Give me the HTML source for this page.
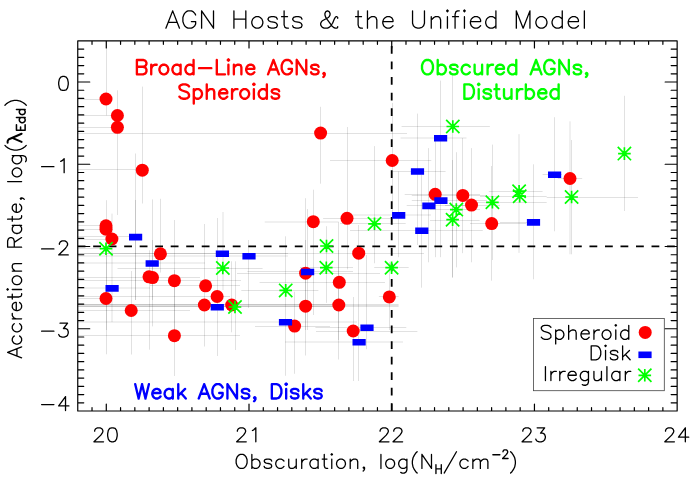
<!DOCTYPE html><html><head><meta charset="utf-8"><title>AGN Hosts &amp; the Unified Model</title><style>html,body{margin:0;padding:0;background:#fff;font-family:"Liberation Sans",sans-serif}svg{display:block}</style></head><body><svg width="690" height="493" viewBox="0 0 690 493"><rect width="690" height="493" fill="#fff"/><g stroke="#000" stroke-opacity=".24" stroke-width=".5" fill="none"><path d="M77.75 99.5H106"/><path d="M77.75 115.5H117.4"/><path d="M77.75 127.5H117.4"/><path d="M77.75 169.5H142.3"/><path d="M77.75 225.5H106"/><path d="M77.75 229.5H106"/><path d="M77.75 239.5H111.9"/><path d="M77.75 253.5H300"/><path d="M77.75 298.5H106"/><path d="M77.75 310.5H190"/><path d="M77.75 277.5H200"/><path d="M77.75 280.5H241"/><path d="M77.75 335.5H240"/><path d="M150 285.5H240"/><path d="M77.75 304.5H398.6"/><path d="M77.75 296.5H230"/><path d="M323.1 218.5H392"/><path d="M77.75 133.5H407"/><path d="M255 326.5H330"/><path d="M237 273.5H380"/><path d="M77.75 306.5H398.6"/><path d="M259.6 282.5H385"/><path d="M300 253.5H424"/><path d="M378.9 296.5H398.6"/><path d="M316 331.5H417.4"/><path d="M330 160.5H431.3"/><path d="M404.7 194.5H480"/><path d="M411.8 195.5H487"/><path d="M445 205.5H500"/><path d="M470 223.5H526"/><path d="M557.8 178.5H582.2"/><path d="M77.75 236.5H135.4"/><path d="M247.4 271.5H353"/><path d="M315.4 327.5H406.3"/><path d="M392.5 171.5H445.6"/><path d="M350 230.5H482.8"/><path d="M406.7 205.5H470"/><path d="M411.8 200.5H487"/><path d="M500 222.5H540"/><path d="M542.6 174.5H562"/><path d="M77.75 248.5H106"/><path d="M117.5 268.5H262.6"/><path d="M241.3 290.5H318.4"/><path d="M300 267.5H353"/><path d="M340 223.5H405.7"/><path d="M374.2 267.5H408.7"/><path d="M401.6 126.5H489.9"/><path d="M430 209.5H480"/><path d="M430 220.5H479.7"/><path d="M470 202.5H546.7"/><path d="M488.8 191.5H542.6"/><path d="M480 196.5H546.7"/><path d="M546.7 197.5H638"/><path d="M77.75 263H205"/><path d="M77.75 288H150"/><path d="M77.75 256H288"/><path d="M77.75 322H357"/><path d="M285 342H403"/><path d="M400.6 138H466.5"/><path d="M345 215H431"/><path d="M264.7 222H338.7"/><path d="M106.5 41.3V115.4"/><path d="M117.5 90.3V215"/><path d="M142.5 86.6V203.5"/><path d="M106.5 200.2V354.3"/><path d="M160.5 198.8V272.5"/><path d="M131.5 271V354.5"/><path d="M149.5 250.3V349.7"/><path d="M152.5 199.4V326.4"/><path d="M174.5 220V376"/><path d="M204.5 224V346.5"/><path d="M217.5 218V356"/><path d="M231.5 261.3V332.3"/><path d="M313.5 189.7V315"/><path d="M347.5 127V269.4"/><path d="M320.5 106.8V183.7"/><path d="M294.5 291.7V373.8"/><path d="M305.5 198.2V355.5"/><path d="M338.5 222.1V359.5"/><path d="M358.5 225V381"/><path d="M389.5 262V330"/><path d="M353.5 297V381"/><path d="M392.5 102.9V225"/><path d="M435.5 138.8V257.2"/><path d="M462.5 138V253.2"/><path d="M471.5 148.1V262.3"/><path d="M491.5 166V280.7"/><path d="M135.5 153.5V300"/><path d="M248.5 240V308"/><path d="M285.5 236.3V375.8"/><path d="M307.5 209V330"/><path d="M366.5 255V349.2"/><path d="M417.5 113.6V245"/><path d="M440.5 80.6V257.2"/><path d="M398.5 171.4V257.2"/><path d="M421.5 174.5V287.7"/><path d="M428.5 148.1V262.3"/><path d="M533.5 164.3V279.3"/><path d="M554.5 117.2V231.3"/><path d="M235.5 261.3V350"/><path d="M326.5 226.2V302.9"/><path d="M374.5 146.1V263.3"/><path d="M452.5 75.5V277.5"/><path d="M456.5 152.2V267.4"/><path d="M492.5 144.6V260"/><path d="M571.5 140V254.3"/><path d="M624.5 95.8V211"/><path d="M112 213.6V322.1"/><path d="M223 212V290"/><path d="M570 121.3V254.3"/><path d="M519 134.1V252.9"/><path d="M77.75 304.5H340"/><path d="M77.75 305.5H398.6"/><path d="M77.75 306.5H340"/><path d="M77.75 253.5H288"/><path d="M106.5 240V330"/><path d="M452.5 160V277.5"/><path d="M305.5 240V330"/><path d="M338.5 250V340"/><path d="M174.5 270V340"/><path d="M152.5 240V300"/><path d="M135.5 200V300"/></g><path d="M77.75 246.45H677.15" stroke="#000" stroke-width="1.8" stroke-dasharray="7.8 7.71" stroke-dashoffset="0.1" fill="none"/><path d="M391.7 411V40.9" stroke="#000" stroke-width="1.8" stroke-dasharray="7.75 7.78" fill="none"/><g fill="#f00"><circle cx="106" cy="99" r="6.5"/><circle cx="117.4" cy="115.5" r="6.5"/><circle cx="117.4" cy="127.3" r="6.5"/><circle cx="142.3" cy="170.2" r="6.5"/><circle cx="106" cy="225.8" r="6.5"/><circle cx="106" cy="229.2" r="6.5"/><circle cx="111.9" cy="239" r="6.5"/><circle cx="160.4" cy="253.8" r="6.5"/><circle cx="106" cy="298.5" r="6.5"/><circle cx="131.2" cy="310.5" r="6.5"/><circle cx="149" cy="276.8" r="6.5"/><circle cx="152.5" cy="277.6" r="6.5"/><circle cx="174.4" cy="280.7" r="6.5"/><circle cx="174.4" cy="335.7" r="6.5"/><circle cx="205.6" cy="285.8" r="6.5"/><circle cx="204.4" cy="305" r="6.5"/><circle cx="217.1" cy="296.5" r="6.5"/><circle cx="231.7" cy="305" r="6.5"/><circle cx="313.3" cy="221.7" r="6.5"/><circle cx="347" cy="218.3" r="6.5"/><circle cx="320.6" cy="133.1" r="6.5"/><circle cx="294.6" cy="326.1" r="6.5"/><circle cx="305.6" cy="273.2" r="6.5"/><circle cx="305.6" cy="306.2" r="6.5"/><circle cx="339.3" cy="282.3" r="6.5"/><circle cx="338.8" cy="305" r="6.5"/><circle cx="358.7" cy="253.2" r="6.5"/><circle cx="389.3" cy="296.9" r="6.5"/><circle cx="353.2" cy="331" r="6.5"/><circle cx="392.2" cy="160.5" r="6.5"/><circle cx="435.2" cy="194.3" r="6.5"/><circle cx="462.8" cy="195.4" r="6.5"/><circle cx="471.5" cy="205.1" r="6.5"/><circle cx="491.7" cy="223.6" r="6.5"/><circle cx="570" cy="178.5" r="6.5"/></g><path fill="#00f" d="M129 233.8h13.2v6.6h-13.2zM145.6 260.2h13.2v6.6h-13.2zM105.5 285.1h13.2v6.6h-13.2zM215.8 250.5h13.2v6.6h-13.2zM242.4 252.9h13.2v6.6h-13.2zM210.7 304h13.2v6.6h-13.2zM278.9 319h13.2v6.6h-13.2zM301 268.7h13.2v6.6h-13.2zM360.4 324.4h13.2v6.6h-13.2zM352.5 339h13.2v6.6h-13.2zM410.9 168.2h13.2v6.6h-13.2zM434 134.9h13.2v6.6h-13.2zM392.1 212.1h13.2v6.6h-13.2zM415.2 227.5h13.2v6.6h-13.2zM422.3 202.6h13.2v6.6h-13.2zM434.3 197.3h13.2v6.6h-13.2zM526.9 219.1h13.2v6.6h-13.2zM548 171.5h13.2v6.6h-13.2z"/><path stroke="#0f0" stroke-width="1.7" fill="none" d="M99.7 248.7h12.6M106 242.4v12.6M99.35 242.05l13.3 13.3M99.35 255.35l13.3 -13.3M216.5 268h12.6M222.8 261.7v12.6M216.15 261.35l13.3 13.3M216.15 274.65l13.3 -13.3M228.7 307h12.6M235 300.7v12.6M228.35 300.35l13.3 13.3M228.35 313.65l13.3 -13.3M279.4 290.4h12.6M285.7 284.1v12.6M279.05 283.75l13.3 13.3M279.05 297.05l13.3 -13.3M320.2 246h12.6M326.5 239.7v12.6M319.85 239.35l13.3 13.3M319.85 252.65l13.3 -13.3M320 267.7h12.6M326.3 261.4v12.6M319.65 261.05l13.3 13.3M319.65 274.35l13.3 -13.3M368.2 223.8h12.6M374.5 217.5v12.6M367.85 217.15l13.3 13.3M367.85 230.45l13.3 -13.3M385.3 267.7h12.6M391.6 261.4v12.6M384.95 261.05l13.3 13.3M384.95 274.35l13.3 -13.3M446.5 126.5h12.6M452.8 120.2v12.6M446.15 119.85l13.3 13.3M446.15 133.15l13.3 -13.3M450 209.6h12.6M456.3 203.3v12.6M449.65 202.95l13.3 13.3M449.65 216.25l13.3 -13.3M446.3 219.7h12.6M452.6 213.4v12.6M445.95 213.05l13.3 13.3M445.95 226.35l13.3 -13.3M486.1 202.3h12.6M492.4 196v12.6M485.75 195.65l13.3 13.3M485.75 208.95l13.3 -13.3M512.8 191.2h12.6M519.1 184.9v12.6M512.45 184.55l13.3 13.3M512.45 197.85l13.3 -13.3M513.4 196.2h12.6M519.7 189.9v12.6M513.05 189.55l13.3 13.3M513.05 202.85l13.3 -13.3M565.3 197h12.6M571.6 190.7v12.6M564.95 190.35l13.3 13.3M564.95 203.65l13.3 -13.3M618.1 153.6h12.6M624.4 147.3v12.6M617.75 146.95l13.3 13.3M617.75 160.25l13.3 -13.3"/><rect x="533.4" y="318.4" width="130.9" height="72.3" fill="#fff" stroke="#444" stroke-width="0.8"/><g fill="#f00"><circle cx="645.2" cy="332.4" r="6.5"/></g><path fill="#00f" d="M638.4 351.5h13.2v6.6h-13.2z"/><path stroke="#0f0" stroke-width="1.7" fill="none" d="M638.5 375.3h12.6M644.8 369v12.6M638.15 368.65l13.3 13.3M638.15 381.95l13.3 -13.3"/><path d="M77.75 40.9H677.15V411H77.75ZM92.02 411v-3.4M92.02 40.9v3.4M106.29 411v-7M106.29 40.9v7M120.56 411v-3.4M120.56 40.9v3.4M134.84 411v-3.4M134.84 40.9v3.4M149.11 411v-3.4M149.11 40.9v3.4M163.38 411v-3.4M163.38 40.9v3.4M177.65 411v-3.4M177.65 40.9v3.4M191.92 411v-3.4M191.92 40.9v3.4M206.19 411v-3.4M206.19 40.9v3.4M220.46 411v-3.4M220.46 40.9v3.4M234.74 411v-3.4M234.74 40.9v3.4M249.01 411v-7M249.01 40.9v7M263.28 411v-3.4M263.28 40.9v3.4M277.55 411v-3.4M277.55 40.9v3.4M291.82 411v-3.4M291.82 40.9v3.4M306.09 411v-3.4M306.09 40.9v3.4M320.36 411v-3.4M320.36 40.9v3.4M334.64 411v-3.4M334.64 40.9v3.4M348.91 411v-3.4M348.91 40.9v3.4M363.18 411v-3.4M363.18 40.9v3.4M377.45 411v-3.4M377.45 40.9v3.4M391.72 411v-7M391.72 40.9v7M405.99 411v-3.4M405.99 40.9v3.4M420.26 411v-3.4M420.26 40.9v3.4M434.54 411v-3.4M434.54 40.9v3.4M448.81 411v-3.4M448.81 40.9v3.4M463.08 411v-3.4M463.08 40.9v3.4M477.35 411v-3.4M477.35 40.9v3.4M491.62 411v-3.4M491.62 40.9v3.4M505.89 411v-3.4M505.89 40.9v3.4M520.16 411v-3.4M520.16 40.9v3.4M534.44 411v-7M534.44 40.9v7M548.71 411v-3.4M548.71 40.9v3.4M562.98 411v-3.4M562.98 40.9v3.4M577.25 411v-3.4M577.25 40.9v3.4M591.52 411v-3.4M591.52 40.9v3.4M605.79 411v-3.4M605.79 40.9v3.4M620.06 411v-3.4M620.06 40.9v3.4M634.34 411v-3.4M634.34 40.9v3.4M648.61 411v-3.4M648.61 40.9v3.4M662.88 411v-3.4M662.88 40.9v3.4M77.75 402.78h6M677.15 402.78h-6M77.75 394.55h6M677.15 394.55h-6M77.75 386.33h6M677.15 386.33h-6M77.75 378.1h6M677.15 378.1h-6M77.75 369.88h6M677.15 369.88h-6M77.75 361.65h6M677.15 361.65h-6M77.75 353.43h6M677.15 353.43h-6M77.75 345.2h6M677.15 345.2h-6M77.75 336.98h6M677.15 336.98h-6M77.75 328.76h12M677.15 328.76h-12M77.75 320.53h6M677.15 320.53h-6M77.75 312.31h6M677.15 312.31h-6M77.75 304.08h6M677.15 304.08h-6M77.75 295.86h6M677.15 295.86h-6M77.75 287.63h6M677.15 287.63h-6M77.75 279.41h6M677.15 279.41h-6M77.75 271.18h6M677.15 271.18h-6M77.75 262.96h6M677.15 262.96h-6M77.75 254.74h6M677.15 254.74h-6M77.75 246.51h12M677.15 246.51h-12M77.75 238.29h6M677.15 238.29h-6M77.75 230.06h6M677.15 230.06h-6M77.75 221.84h6M677.15 221.84h-6M77.75 213.61h6M677.15 213.61h-6M77.75 205.39h6M677.15 205.39h-6M77.75 197.16h6M677.15 197.16h-6M77.75 188.94h6M677.15 188.94h-6M77.75 180.72h6M677.15 180.72h-6M77.75 172.49h6M677.15 172.49h-6M77.75 164.27h12M677.15 164.27h-12M77.75 156.04h6M677.15 156.04h-6M77.75 147.82h6M677.15 147.82h-6M77.75 139.59h6M677.15 139.59h-6M77.75 131.37h6M677.15 131.37h-6M77.75 123.14h6M677.15 123.14h-6M77.75 114.92h6M677.15 114.92h-6M77.75 106.7h6M677.15 106.7h-6M77.75 98.47h6M677.15 98.47h-6M77.75 90.25h6M677.15 90.25h-6M77.75 82.02h12M677.15 82.02h-12M77.75 73.8h6M677.15 73.8h-6M77.75 65.57h6M677.15 65.57h-6M77.75 57.35h6M677.15 57.35h-6M77.75 49.12h6M677.15 49.12h-6" stroke="#000" stroke-width="1.2" fill="none" stroke-linecap="round" stroke-linejoin="round"/><path d="M172.68 10.87L165.88 28.2M172.68 10.87L179.49 28.2M168.43 22.42L176.93 22.42M195.65 15L194.8 13.35L193.1 11.7L191.39 10.87L187.99 10.87L186.29 11.7L184.59 13.35L183.74 15L182.89 17.47L182.89 21.6L183.74 24.07L184.59 25.72L186.29 27.37L187.99 28.2L191.39 28.2L193.1 27.37L194.8 25.72L195.65 24.07L195.65 21.6M191.39 21.6L195.65 21.6M201.6 10.87L201.6 28.2M201.6 10.87L213.51 28.2M213.51 10.87L213.51 28.2M233.92 10.87L233.92 28.2M245.83 10.87L245.83 28.2M233.92 19.12L245.83 19.12M256.04 16.65L254.34 17.47L252.64 19.12L251.79 21.6L251.79 23.25L252.64 25.72L254.34 27.37L256.04 28.2L258.59 28.2L260.29 27.37L261.99 25.72L262.84 23.25L262.84 21.6L261.99 19.12L260.29 17.47L258.59 16.65L256.04 16.65M277.31 19.12L276.45 17.47L273.9 16.65L271.35 16.65L268.8 17.47L267.95 19.12L268.8 20.77L270.5 21.6L274.75 22.42L276.45 23.25L277.31 24.9L277.31 25.72L276.45 27.37L273.9 28.2L271.35 28.2L268.8 27.37L267.95 25.72M284.11 10.87L284.11 24.9L284.96 27.37L286.66 28.2L288.36 28.2M281.56 16.65L287.51 16.65M301.97 19.12L301.12 17.47L298.57 16.65L296.02 16.65L293.47 17.47L292.62 19.12L293.47 20.77L295.17 21.6L299.42 22.42L301.12 23.25L301.97 24.9L301.97 25.72L301.12 27.37L298.57 28.2L296.02 28.2L293.47 27.37L292.62 25.72M337.7 18.3L337.7 17.47L336.85 16.65L336 16.65L335.15 17.47L334.3 19.12L332.59 23.25L330.89 25.72L329.19 27.37L327.49 28.2L324.09 28.2L322.39 27.37L321.54 26.55L320.69 24.9L320.69 23.25L321.54 21.6L322.39 20.77L328.34 17.47L329.19 16.65L330.04 15L330.04 13.35L329.19 11.7L327.49 10.87L325.79 11.7L324.94 13.35L324.94 15L325.79 17.47L327.49 19.95L331.74 25.72L333.44 27.37L335.15 28.2L336.85 28.2L337.7 27.37L337.7 26.55M358.11 10.87L358.11 24.9L358.96 27.37L360.66 28.2L362.37 28.2M355.56 16.65L361.51 16.65M367.47 10.87L367.47 28.2M367.47 19.95L370.02 17.47L371.72 16.65L374.27 16.65L375.97 17.47L376.83 19.95L376.83 28.2M382.78 21.6L392.99 21.6L392.99 19.95L392.14 18.3L391.29 17.47L389.58 16.65L387.03 16.65L385.33 17.47L383.63 19.12L382.78 21.6L382.78 23.25L383.63 25.72L385.33 27.37L387.03 28.2L389.58 28.2L391.29 27.37L392.99 25.72M412.55 10.87L412.55 23.25L413.4 25.72L415.1 27.37L417.65 28.2L419.36 28.2L421.91 27.37L423.61 25.72L424.46 23.25L424.46 10.87M431.26 16.65L431.26 28.2M431.26 19.95L433.82 17.47L435.52 16.65L438.07 16.65L439.77 17.47L440.62 19.95L440.62 28.2M446.57 10.87L447.43 11.7L448.28 10.87L447.43 10.05L446.57 10.87M447.43 16.65L447.43 28.2M459.33 10.87L457.63 10.87L455.93 11.7L455.08 14.17L455.08 28.2M452.53 16.65L458.48 16.65M463.59 10.87L464.44 11.7L465.29 10.87L464.44 10.05L463.59 10.87M464.44 16.65L464.44 28.2M470.39 21.6L480.6 21.6L480.6 19.95L479.75 18.3L478.9 17.47L477.2 16.65L474.64 16.65L472.94 17.47L471.24 19.12L470.39 21.6L470.39 23.25L471.24 25.72L472.94 27.37L474.64 28.2L477.2 28.2L478.9 27.37L480.6 25.72M495.91 10.87L495.91 28.2M495.91 19.12L494.21 17.47L492.51 16.65L489.96 16.65L488.25 17.47L486.55 19.12L485.7 21.6L485.7 23.25L486.55 25.72L488.25 27.37L489.96 28.2L492.51 28.2L494.21 27.37L495.91 25.72M516.32 10.87L516.32 28.2M516.32 10.87L523.13 28.2M529.93 10.87L523.13 28.2M529.93 10.87L529.93 28.2M540.14 16.65L538.44 17.47L536.74 19.12L535.89 21.6L535.89 23.25L536.74 25.72L538.44 27.37L540.14 28.2L542.69 28.2L544.39 27.37L546.09 25.72L546.95 23.25L546.95 21.6L546.09 19.12L544.39 17.47L542.69 16.65L540.14 16.65M562.26 10.87L562.26 28.2M562.26 19.12L560.55 17.47L558.85 16.65L556.3 16.65L554.6 17.47L552.9 19.12L552.05 21.6L552.05 23.25L552.9 25.72L554.6 27.37L556.3 28.2L558.85 28.2L560.55 27.37L562.26 25.72M568.21 21.6L578.42 21.6L578.42 19.95L577.57 18.3L576.72 17.47L575.02 16.65L572.46 16.65L570.76 17.47L569.06 19.12L568.21 21.6L568.21 23.25L569.06 25.72L570.76 27.37L572.46 28.2L575.02 28.2L576.72 27.37L578.42 25.72M584.37 10.87L584.37 28.2M94.66 431.15L94.66 430.48L95.35 429.15L96.03 428.48L97.4 427.82L100.13 427.82L101.49 428.48L102.18 429.15L102.86 430.48L102.86 431.81L102.18 433.14L100.81 435.14L93.98 441.8L103.54 441.8M111.74 427.82L109.69 428.48L108.32 430.48L107.64 433.81L107.64 435.81L108.32 439.14L109.69 441.13L111.74 441.8L113.11 441.8L115.15 441.13L116.52 439.14L117.2 435.81L117.2 433.81L116.52 430.48L115.15 428.48L113.11 427.82L111.74 427.82M237.38 431.15L237.38 430.48L238.06 429.15L238.75 428.48L240.11 427.82L242.84 427.82L244.21 428.48L244.89 429.15L245.58 430.48L245.58 431.81L244.89 433.14L243.53 435.14L236.7 441.8L246.26 441.8M252.41 430.48L253.77 429.81L255.82 427.82L255.82 441.8M380.09 431.15L380.09 430.48L380.78 429.15L381.46 428.48L382.83 427.82L385.56 427.82L386.92 428.48L387.61 429.15L388.29 430.48L388.29 431.81L387.61 433.14L386.24 435.14L379.41 441.8L388.97 441.8M393.75 431.15L393.75 430.48L394.44 429.15L395.12 428.48L396.49 427.82L399.22 427.82L400.58 428.48L401.27 429.15L401.95 430.48L401.95 431.81L401.27 433.14L399.9 435.14L393.07 441.8L402.63 441.8M522.81 431.15L522.81 430.48L523.49 429.15L524.17 428.48L525.54 427.82L528.27 427.82L529.64 428.48L530.32 429.15L531 430.48L531 431.81L530.32 433.14L528.95 435.14L522.12 441.8L531.69 441.8M537.15 427.82L544.66 427.82L540.57 433.14L542.61 433.14L543.98 433.81L544.66 434.47L545.35 436.47L545.35 437.8L544.66 439.8L543.3 441.13L541.25 441.8L539.2 441.8L537.15 441.13L536.47 440.47L535.78 439.14M665.52 431.15L665.52 430.48L666.2 429.15L666.89 428.48L668.25 427.82L670.99 427.82L672.35 428.48L673.03 429.15L673.72 430.48L673.72 431.81L673.03 433.14L671.67 435.14L664.84 441.8L674.4 441.8M685.33 427.82L678.5 437.14L688.74 437.14M685.33 427.82L685.33 441.8M62.79 76.44L60.74 77.1L59.37 79.1L58.69 82.43L58.69 84.43L59.37 87.76L60.74 89.76L62.79 90.42L64.15 90.42L66.2 89.76L67.57 87.76L68.25 84.43L68.25 82.43L67.57 79.1L66.2 77.1L64.15 76.44L62.79 76.44M41.61 166.67L53.91 166.67M60.74 161.35L62.1 160.68L64.15 158.68L64.15 172.67M41.61 248.92L53.91 248.92M59.37 244.26L59.37 243.59L60.05 242.26L60.74 241.59L62.1 240.93L64.84 240.93L66.2 241.59L66.88 242.26L67.57 243.59L67.57 244.92L66.88 246.25L65.52 248.25L58.69 254.91L68.25 254.91M41.61 331.16L53.91 331.16M60.05 323.17L67.57 323.17L63.47 328.5L65.52 328.5L66.88 329.16L67.57 329.83L68.25 331.83L68.25 333.16L67.57 335.16L66.2 336.49L64.15 337.16L62.1 337.16L60.05 336.49L59.37 335.82L58.69 334.49M41.61 404.61L53.91 404.61M65.52 396.62L58.69 405.94L68.93 405.94M65.52 396.62L65.52 410.6M240.25 454.42L238.88 455.08L237.51 456.41L236.83 457.75L236.15 459.74L236.15 463.07L236.83 465.07L237.51 466.4L238.88 467.73L240.25 468.4L242.98 468.4L244.34 467.73L245.71 466.4L246.39 465.07L247.08 463.07L247.08 459.74L246.39 457.75L245.71 456.41L244.34 455.08L242.98 454.42L240.25 454.42M251.86 454.42L251.86 468.4M251.86 461.07L253.22 459.74L254.59 459.08L256.64 459.08L258 459.74L259.37 461.07L260.05 463.07L260.05 464.4L259.37 466.4L258 467.73L256.64 468.4L254.59 468.4L253.22 467.73L251.86 466.4M271.66 461.07L270.98 459.74L268.93 459.08L266.88 459.08L264.83 459.74L264.15 461.07L264.83 462.41L266.2 463.07L269.62 463.74L270.98 464.4L271.66 465.74L271.66 466.4L270.98 467.73L268.93 468.4L266.88 468.4L264.83 467.73L264.15 466.4M283.96 461.07L282.59 459.74L281.23 459.08L279.18 459.08L277.81 459.74L276.45 461.07L275.76 463.07L275.76 464.4L276.45 466.4L277.81 467.73L279.18 468.4L281.23 468.4L282.59 467.73L283.96 466.4M288.74 459.08L288.74 465.74L289.42 467.73L290.79 468.4L292.84 468.4L294.2 467.73L296.25 465.74M296.25 459.08L296.25 468.4M301.72 459.08L301.72 468.4M301.72 463.07L302.4 461.07L303.77 459.74L305.13 459.08L307.18 459.08M318.11 459.08L318.11 468.4M318.11 461.07L316.74 459.74L315.38 459.08L313.33 459.08L311.96 459.74L310.6 461.07L309.91 463.07L309.91 464.4L310.6 466.4L311.96 467.73L313.33 468.4L315.38 468.4L316.74 467.73L318.11 466.4M324.26 454.42L324.26 465.74L324.94 467.73L326.3 468.4L327.67 468.4M322.21 459.08L326.99 459.08M331.09 454.42L331.77 455.08L332.45 454.42L331.77 453.75L331.09 454.42M331.77 459.08L331.77 468.4M339.96 459.08L338.6 459.74L337.23 461.07L336.55 463.07L336.55 464.4L337.23 466.4L338.6 467.73L339.96 468.4L342.01 468.4L343.38 467.73L344.75 466.4L345.43 464.4L345.43 463.07L344.75 461.07L343.38 459.74L342.01 459.08L339.96 459.08M350.21 459.08L350.21 468.4M350.21 461.74L352.26 459.74L353.62 459.08L355.67 459.08L357.04 459.74L357.72 461.74L357.72 468.4M364.55 467.73L363.87 468.4L363.19 467.73L363.87 467.07L364.55 467.73L364.55 469.07L363.87 470.4L363.19 471.06M380.94 454.42L380.94 468.4M389.14 459.08L387.77 459.74L386.41 461.07L385.73 463.07L385.73 464.4L386.41 466.4L387.77 467.73L389.14 468.4L391.19 468.4L392.56 467.73L393.92 466.4L394.6 464.4L394.6 463.07L393.92 461.07L392.56 459.74L391.19 459.08L389.14 459.08M406.9 459.08L406.9 469.73L406.22 471.73L405.53 472.4L404.17 473.06L402.12 473.06L400.75 472.4M406.9 461.07L405.53 459.74L404.17 459.08L402.12 459.08L400.75 459.74L399.39 461.07L398.7 463.07L398.7 464.4L399.39 466.4L400.75 467.73L402.12 468.4L404.17 468.4L405.53 467.73L406.9 466.4M417.14 451.75L415.78 453.08L414.41 455.08L413.05 457.75L412.36 461.07L412.36 463.74L413.05 467.07L414.41 469.73L415.78 471.73L417.14 473.06M421.92 454.42L421.92 468.4M421.92 454.42L431.49 468.4M431.49 454.42L431.49 468.4M456.47 451.75L444.17 473.06M468.08 461.07L466.71 459.74L465.35 459.08L463.3 459.08L461.93 459.74L460.57 461.07L459.88 463.07L459.88 464.4L460.57 466.4L461.93 467.73L463.3 468.4L465.35 468.4L466.71 467.73L468.08 466.4M472.86 459.08L472.86 468.4M472.86 461.74L474.91 459.74L476.27 459.08L478.32 459.08L479.69 459.74L480.37 461.74L480.37 468.4M480.37 461.74L482.42 459.74L483.79 459.08L485.84 459.08L487.2 459.74L487.89 461.74L487.89 468.4M510.59 451.75L511.95 453.08L513.32 455.08L514.69 457.75L515.37 461.07L515.37 463.74L514.69 467.07L513.32 469.73L511.95 471.73L510.59 473.06M7.62 352.32L21.6 357.78M7.62 352.32L21.6 346.85M16.94 355.73L16.94 348.9M14.27 335.93L12.94 337.29L12.28 338.66L12.28 340.71L12.94 342.07L14.27 343.44L16.27 344.12L17.6 344.12L19.6 343.44L20.93 342.07L21.6 340.71L21.6 338.66L20.93 337.29L19.6 335.93M14.27 323.63L12.94 325L12.28 326.36L12.28 328.41L12.94 329.78L14.27 331.14L16.27 331.83L17.6 331.83L19.6 331.14L20.93 329.78L21.6 328.41L21.6 326.36L20.93 325L19.6 323.63M12.28 318.85L21.6 318.85M16.27 318.85L14.27 318.17L12.94 316.8L12.28 315.44L12.28 313.39M16.27 310.65L16.27 302.46L14.94 302.46L13.61 303.14L12.94 303.82L12.28 305.19L12.28 307.24L12.94 308.61L14.27 309.97L16.27 310.65L17.6 310.65L19.6 309.97L20.93 308.61L21.6 307.24L21.6 305.19L20.93 303.82L19.6 302.46M7.62 296.99L18.94 296.99L20.93 296.31L21.6 294.95L21.6 293.58M12.28 299.04L12.28 294.26M7.62 290.16L8.28 289.48L7.62 288.8L6.95 289.48L7.62 290.16M12.28 289.48L21.6 289.48M12.28 281.29L12.94 282.65L14.27 284.02L16.27 284.7L17.6 284.7L19.6 284.02L20.93 282.65L21.6 281.29L21.6 279.24L20.93 277.87L19.6 276.5L17.6 275.82L16.27 275.82L14.27 276.5L12.94 277.87L12.28 279.24L12.28 281.29M12.28 271.04L21.6 271.04M14.94 271.04L12.94 268.99L12.28 267.63L12.28 265.58L12.94 264.21L14.94 263.53L21.6 263.53M7.62 247.14L21.6 247.14M7.62 247.14L7.62 240.99L8.28 238.94L8.95 238.26L10.28 237.57L11.61 237.57L12.94 238.26L13.61 238.94L14.27 240.99L14.27 247.14M14.27 242.35L21.6 237.57M12.28 225.28L21.6 225.28M14.27 225.28L12.94 226.65L12.28 228.01L12.28 230.06L12.94 231.43L14.27 232.79L16.27 233.48L17.6 233.48L19.6 232.79L20.93 231.43L21.6 230.06L21.6 228.01L20.93 226.65L19.6 225.28M7.62 219.13L18.94 219.13L20.93 218.45L21.6 217.08L21.6 215.72M12.28 221.18L12.28 216.4M16.27 212.3L16.27 204.11L14.94 204.11L13.61 204.79L12.94 205.47L12.28 206.84L12.28 208.89L12.94 210.25L14.27 211.62L16.27 212.3L17.6 212.3L19.6 211.62L20.93 210.25L21.6 208.89L21.6 206.84L20.93 205.47L19.6 204.11M20.93 197.96L21.6 198.64L20.93 199.33L20.27 198.64L20.93 197.96L22.27 197.96L23.6 198.64L24.26 199.33M7.62 181.57L21.6 181.57M12.28 173.37L12.94 174.74L14.27 176.1L16.27 176.79L17.6 176.79L19.6 176.1L20.93 174.74L21.6 173.37L21.6 171.32L20.93 169.96L19.6 168.59L17.6 167.91L16.27 167.91L14.27 168.59L12.94 169.96L12.28 171.32L12.28 173.37M12.28 155.61L22.93 155.61L24.93 156.3L25.6 156.98L26.26 158.35L26.26 160.39L25.6 161.76M14.27 155.61L12.94 156.98L12.28 158.35L12.28 160.39L12.94 161.76L14.27 163.13L16.27 163.81L17.6 163.81L19.6 163.13L20.93 161.76L21.6 160.39L21.6 158.35L20.93 156.98L19.6 155.61M4.95 145.37L6.28 146.73L8.28 148.1L10.95 149.47L14.27 150.15L16.94 150.15L20.27 149.47L22.93 148.1L24.93 146.73L26.26 145.37M4.95 105.25L6.28 103.88L8.28 102.52L10.95 101.15L14.27 100.47L16.94 100.47L20.27 101.15L22.93 102.52L24.93 103.88L26.26 105.25M550.91 327.31L549.54 325.98L547.49 325.32L544.76 325.32L542.71 325.98L541.34 327.31L541.34 328.65L542.03 329.98L542.71 330.64L544.08 331.31L548.17 332.64L549.54 333.31L550.22 333.97L550.91 335.3L550.91 337.3L549.54 338.63L547.49 339.3L544.76 339.3L542.71 338.63L541.34 337.3M555.69 329.98L555.69 343.96M555.69 331.97L557.05 330.64L558.42 329.98L560.47 329.98L561.83 330.64L563.2 331.97L563.88 333.97L563.88 335.3L563.2 337.3L561.83 338.63L560.47 339.3L558.42 339.3L557.05 338.63L555.69 337.3M568.66 325.32L568.66 339.3M568.66 332.64L570.71 330.64L572.08 329.98L574.13 329.98L575.49 330.64L576.18 332.64L576.18 339.3M580.96 333.97L589.15 333.97L589.15 332.64L588.47 331.31L587.79 330.64L586.42 329.98L584.37 329.98L583.01 330.64L581.64 331.97L580.96 333.97L580.96 335.3L581.64 337.3L583.01 338.63L584.37 339.3L586.42 339.3L587.79 338.63L589.15 337.3M593.93 329.98L593.93 339.3M593.93 333.97L594.62 331.97L595.98 330.64L597.35 329.98L599.4 329.98M605.55 329.98L604.18 330.64L602.81 331.97L602.13 333.97L602.13 335.3L602.81 337.3L604.18 338.63L605.55 339.3L607.6 339.3L608.96 338.63L610.33 337.3L611.01 335.3L611.01 333.97L610.33 331.97L608.96 330.64L607.6 329.98L605.55 329.98M615.11 325.32L615.79 325.98L616.47 325.32L615.79 324.65L615.11 325.32M615.79 329.98L615.79 339.3M628.77 325.32L628.77 339.3M628.77 331.97L627.4 330.64L626.04 329.98L623.99 329.98L622.62 330.64L621.25 331.97L620.57 333.97L620.57 335.3L621.25 337.3L622.62 338.63L623.99 339.3L626.04 339.3L627.4 338.63L628.77 337.3M591.2 345.82L591.2 359.8M591.2 345.82L595.98 345.82L598.03 346.48L599.4 347.81L600.08 349.15L600.76 351.14L600.76 354.47L600.08 356.47L599.4 357.8L598.03 359.13L595.98 359.8L591.2 359.8M604.86 345.82L605.55 346.48L606.23 345.82L605.55 345.15L604.86 345.82M605.55 350.48L605.55 359.8M617.84 352.47L617.16 351.14L615.11 350.48L613.06 350.48L611.01 351.14L610.33 352.47L611.01 353.81L612.38 354.47L615.79 355.14L617.16 355.8L617.84 357.14L617.84 357.8L617.16 359.13L615.11 359.8L613.06 359.8L611.01 359.13L610.33 357.8M622.62 345.82L622.62 359.8M629.45 350.48L622.62 357.14M625.35 354.47L630.13 359.8M545.44 366.62L545.44 380.6M550.91 371.28L550.91 380.6M550.91 375.27L551.59 373.27L552.96 371.94L554.32 371.28L556.37 371.28M559.78 371.28L559.78 380.6M559.78 375.27L560.47 373.27L561.83 371.94L563.2 371.28L565.25 371.28M567.98 375.27L576.18 375.27L576.18 373.94L575.49 372.61L574.81 371.94L573.45 371.28L571.4 371.28L570.03 371.94L568.66 373.27L567.98 375.27L567.98 376.6L568.66 378.6L570.03 379.93L571.4 380.6L573.45 380.6L574.81 379.93L576.18 378.6M588.47 371.28L588.47 381.93L587.79 383.93L587.11 384.6L585.74 385.26L583.69 385.26L582.32 384.6M588.47 373.27L587.11 371.94L585.74 371.28L583.69 371.28L582.32 371.94L580.96 373.27L580.27 375.27L580.27 376.6L580.96 378.6L582.32 379.93L583.69 380.6L585.74 380.6L587.11 379.93L588.47 378.6M593.93 371.28L593.93 377.94L594.62 379.93L595.98 380.6L598.03 380.6L599.4 379.93L601.45 377.94M601.45 371.28L601.45 380.6M606.91 366.62L606.91 380.6M619.89 371.28L619.89 380.6M619.89 373.27L618.52 371.94L617.16 371.28L615.11 371.28L613.74 371.94L612.38 373.27L611.69 375.27L611.69 376.6L612.38 378.6L613.74 379.93L615.11 380.6L617.16 380.6L618.52 379.93L619.89 378.6M625.35 371.28L625.35 380.6M625.35 375.27L626.04 373.27L627.4 371.94L628.77 371.28L630.82 371.28" stroke="#000" stroke-width="1.3" fill="none" stroke-linecap="round" stroke-linejoin="round"/><path d="M435.95 464.79L435.95 473.46M441.28 464.79L441.28 473.46M435.95 468.92L441.28 468.92M492.86 454.76L499.87 454.76M502.99 451.87L502.99 451.46L503.38 450.63L503.77 450.22L504.55 449.81L506.1 449.81L506.88 450.22L507.27 450.63L507.66 451.46L507.66 452.28L507.27 453.11L506.49 454.35L502.6 458.48L508.05 458.48" stroke="#000" stroke-width="1.35" fill="none" stroke-linecap="round" stroke-linejoin="round"/><path d="M16.46 130.29L25.13 130.29M16.46 130.29L16.46 124.78M20.59 130.29L20.59 126.9M25.13 130.29L25.13 124.78M16.46 117.58L25.13 117.58M20.59 117.58L19.76 118.43L19.35 119.28L19.35 120.55L19.76 121.39L20.59 122.24L21.83 122.67L22.65 122.67L23.89 122.24L24.72 121.39L25.13 120.55L25.13 119.28L24.72 118.43L23.89 117.58M16.46 109.54L25.13 109.54M20.59 109.54L19.76 110.38L19.35 111.23L19.35 112.5L19.76 113.35L20.59 114.2L21.83 114.62L22.65 114.62L23.89 114.2L24.72 113.35L25.13 112.5L25.13 111.23L24.72 110.38L23.89 109.54" stroke="#000" stroke-width="1.55" fill="none" stroke-linecap="round" stroke-linejoin="round"/><path d="M7.62 142.64L7.62 141.27L8.28 139.9L8.95 139.22L21.6 133.76M12.28 137.86L21.6 141.95" stroke="#000" stroke-width="2.0" fill="none" stroke-linecap="round" stroke-linejoin="round"/><path d="M136.89 59.96L136.89 74.3M136.89 59.96L143.03 59.96L145.08 60.64L145.77 61.32L146.45 62.69L146.45 64.05L145.77 65.42L145.08 66.1L143.03 66.79M136.89 66.79L143.03 66.79L145.08 67.47L145.77 68.15L146.45 69.52L146.45 71.57L145.77 72.93L145.08 73.62L143.03 74.3L136.89 74.3M151.23 64.74L151.23 74.3M151.23 68.84L151.91 66.79L153.28 65.42L154.65 64.74L156.69 64.74M162.84 64.74L161.48 65.42L160.11 66.79L159.43 68.84L159.43 70.2L160.11 72.25L161.48 73.62L162.84 74.3L164.89 74.3L166.26 73.62L167.62 72.25L168.31 70.2L168.31 68.84L167.62 66.79L166.26 65.42L164.89 64.74L162.84 64.74M180.6 64.74L180.6 74.3M180.6 66.79L179.23 65.42L177.87 64.74L175.82 64.74L174.45 65.42L173.09 66.79L172.4 68.84L172.4 70.2L173.09 72.25L174.45 73.62L175.82 74.3L177.87 74.3L179.23 73.62L180.6 72.25M193.58 59.96L193.58 74.3M193.58 66.79L192.21 65.42L190.84 64.74L188.8 64.74L187.43 65.42L186.06 66.79L185.38 68.84L185.38 70.2L186.06 72.25L187.43 73.62L188.8 74.3L190.84 74.3L192.21 73.62L193.58 72.25M199.04 68.15L211.33 68.15M216.8 59.96L216.8 74.3M216.8 74.3L224.99 74.3M227.73 59.96L228.41 60.64L229.09 59.96L228.41 59.27L227.73 59.96M228.41 64.74L228.41 74.3M233.87 64.74L233.87 74.3M233.87 67.47L235.92 65.42L237.29 64.74L239.34 64.74L240.7 65.42L241.39 67.47L241.39 74.3M246.17 68.84L254.36 68.84L254.36 67.47L253.68 66.1L253 65.42L251.63 64.74L249.58 64.74L248.22 65.42L246.85 66.79L246.17 68.84L246.17 70.2L246.85 72.25L248.22 73.62L249.58 74.3L251.63 74.3L253 73.62L254.36 72.25M273.49 59.96L268.02 74.3M273.49 59.96L278.95 74.3M270.07 69.52L276.9 69.52M291.93 63.37L291.25 62.01L289.88 60.64L288.51 59.96L285.78 59.96L284.42 60.64L283.05 62.01L282.37 63.37L281.68 65.42L281.68 68.84L282.37 70.88L283.05 72.25L284.42 73.62L285.78 74.3L288.51 74.3L289.88 73.62L291.25 72.25L291.93 70.88L291.93 68.84M288.51 68.84L291.93 68.84M296.71 59.96L296.71 74.3M296.71 59.96L306.27 74.3M306.27 59.96L306.27 74.3M318.57 66.79L317.88 65.42L315.83 64.74L313.78 64.74L311.74 65.42L311.05 66.79L311.74 68.15L313.1 68.84L316.52 69.52L317.88 70.2L318.57 71.57L318.57 72.25L317.88 73.62L315.83 74.3L313.78 74.3L311.74 73.62L311.05 72.25M324.71 73.62L324.03 74.3L323.35 73.62L324.03 72.93L324.71 73.62L324.71 74.98L324.03 76.35L323.35 77.03" stroke="#f00" stroke-width="2.35" fill="none" stroke-linecap="round" stroke-linejoin="round"/><path d="M189 86.41L187.64 85.04L185.59 84.36L182.86 84.36L180.81 85.04L179.44 86.41L179.44 87.77L180.12 89.14L180.81 89.82L182.17 90.5L186.27 91.87L187.64 92.55L188.32 93.24L189 94.6L189 96.65L187.64 98.02L185.59 98.7L182.86 98.7L180.81 98.02L179.44 96.65M193.78 89.14L193.78 103.48M193.78 91.19L195.15 89.82L196.52 89.14L198.56 89.14L199.93 89.82L201.3 91.19L201.98 93.24L201.98 94.6L201.3 96.65L199.93 98.02L198.56 98.7L196.52 98.7L195.15 98.02L193.78 96.65M206.76 84.36L206.76 98.7M206.76 91.87L208.81 89.82L210.18 89.14L212.23 89.14L213.59 89.82L214.27 91.87L214.27 98.7M219.06 93.24L227.25 93.24L227.25 91.87L226.57 90.5L225.89 89.82L224.52 89.14L222.47 89.14L221.1 89.82L219.74 91.19L219.06 93.24L219.06 94.6L219.74 96.65L221.1 98.02L222.47 98.7L224.52 98.7L225.89 98.02L227.25 96.65M232.03 89.14L232.03 98.7M232.03 93.24L232.72 91.19L234.08 89.82L235.45 89.14L237.5 89.14M243.64 89.14L242.28 89.82L240.91 91.19L240.23 93.24L240.23 94.6L240.91 96.65L242.28 98.02L243.64 98.7L245.69 98.7L247.06 98.02L248.42 96.65L249.11 94.6L249.11 93.24L248.42 91.19L247.06 89.82L245.69 89.14L243.64 89.14M253.21 84.36L253.89 85.04L254.57 84.36L253.89 83.67L253.21 84.36M253.89 89.14L253.89 98.7M266.87 84.36L266.87 98.7M266.87 91.19L265.5 89.82L264.13 89.14L262.08 89.14L260.72 89.82L259.35 91.19L258.67 93.24L258.67 94.6L259.35 96.65L260.72 98.02L262.08 98.7L264.13 98.7L265.5 98.02L266.87 96.65M279.16 91.19L278.48 89.82L276.43 89.14L274.38 89.14L272.33 89.82L271.65 91.19L272.33 92.55L273.69 93.24L277.11 93.92L278.48 94.6L279.16 95.97L279.16 96.65L278.48 98.02L276.43 98.7L274.38 98.7L272.33 98.02L271.65 96.65" stroke="#f00" stroke-width="2.35" fill="none" stroke-linecap="round" stroke-linejoin="round"/><path d="M426.11 59.96L424.75 60.64L423.38 62.01L422.7 63.37L422.02 65.42L422.02 68.84L422.7 70.88L423.38 72.25L424.75 73.62L426.11 74.3L428.85 74.3L430.21 73.62L431.58 72.25L432.26 70.88L432.94 68.84L432.94 65.42L432.26 63.37L431.58 62.01L430.21 60.64L428.85 59.96L426.11 59.96M437.72 59.96L437.72 74.3M437.72 66.79L439.09 65.42L440.46 64.74L442.51 64.74L443.87 65.42L445.24 66.79L445.92 68.84L445.92 70.2L445.24 72.25L443.87 73.62L442.51 74.3L440.46 74.3L439.09 73.62L437.72 72.25M457.53 66.79L456.85 65.42L454.8 64.74L452.75 64.74L450.7 65.42L450.02 66.79L450.7 68.15L452.07 68.84L455.48 69.52L456.85 70.2L457.53 71.57L457.53 72.25L456.85 73.62L454.8 74.3L452.75 74.3L450.7 73.62L450.02 72.25M469.83 66.79L468.46 65.42L467.09 64.74L465.04 64.74L463.68 65.42L462.31 66.79L461.63 68.84L461.63 70.2L462.31 72.25L463.68 73.62L465.04 74.3L467.09 74.3L468.46 73.62L469.83 72.25M474.61 64.74L474.61 71.57L475.29 73.62L476.66 74.3L478.7 74.3L480.07 73.62L482.12 71.57M482.12 64.74L482.12 74.3M487.58 64.74L487.58 74.3M487.58 68.84L488.27 66.79L489.63 65.42L491 64.74L493.05 64.74M495.78 68.84L503.98 68.84L503.98 67.47L503.29 66.1L502.61 65.42L501.24 64.74L499.19 64.74L497.83 65.42L496.46 66.79L495.78 68.84L495.78 70.2L496.46 72.25L497.83 73.62L499.19 74.3L501.24 74.3L502.61 73.62L503.98 72.25M516.27 59.96L516.27 74.3M516.27 66.79L514.9 65.42L513.54 64.74L511.49 64.74L510.12 65.42L508.76 66.79L508.07 68.84L508.07 70.2L508.76 72.25L510.12 73.62L511.49 74.3L513.54 74.3L514.9 73.62L516.27 72.25M536.08 59.96L530.61 74.3M536.08 59.96L541.54 74.3M532.66 69.52L539.49 69.52M554.52 63.37L553.83 62.01L552.47 60.64L551.1 59.96L548.37 59.96L547 60.64L545.64 62.01L544.96 63.37L544.27 65.42L544.27 68.84L544.96 70.88L545.64 72.25L547 73.62L548.37 74.3L551.1 74.3L552.47 73.62L553.83 72.25L554.52 70.88L554.52 68.84M551.1 68.84L554.52 68.84M559.3 59.96L559.3 74.3M559.3 59.96L568.86 74.3M568.86 59.96L568.86 74.3M581.15 66.79L580.47 65.42L578.42 64.74L576.37 64.74L574.32 65.42L573.64 66.79L574.32 68.15L575.69 68.84L579.11 69.52L580.47 70.2L581.15 71.57L581.15 72.25L580.47 73.62L578.42 74.3L576.37 74.3L574.32 73.62L573.64 72.25M587.3 73.62L586.62 74.3L585.94 73.62L586.62 72.93L587.3 73.62L587.3 74.98L586.62 76.35L585.94 77.03" stroke="#0f0" stroke-width="2.35" fill="none" stroke-linecap="round" stroke-linejoin="round"/><path d="M464.37 84.36L464.37 98.7M464.37 84.36L469.15 84.36L471.2 85.04L472.57 86.41L473.25 87.77L473.94 89.82L473.94 93.24L473.25 95.28L472.57 96.65L471.2 98.02L469.15 98.7L464.37 98.7M478.03 84.36L478.72 85.04L479.4 84.36L478.72 83.67L478.03 84.36M478.72 89.14L478.72 98.7M491.01 91.19L490.33 89.82L488.28 89.14L486.23 89.14L484.18 89.82L483.5 91.19L484.18 92.55L485.55 93.24L488.96 93.92L490.33 94.6L491.01 95.97L491.01 96.65L490.33 98.02L488.28 98.7L486.23 98.7L484.18 98.02L483.5 96.65M496.47 84.36L496.47 95.97L497.16 98.02L498.52 98.7L499.89 98.7M494.43 89.14L499.21 89.14M503.99 89.14L503.99 95.97L504.67 98.02L506.04 98.7L508.08 98.7L509.45 98.02L511.5 95.97M511.5 89.14L511.5 98.7M516.96 89.14L516.96 98.7M516.96 93.24L517.65 91.19L519.01 89.82L520.38 89.14L522.43 89.14M525.84 84.36L525.84 98.7M525.84 91.19L527.21 89.82L528.58 89.14L530.62 89.14L531.99 89.82L533.36 91.19L534.04 93.24L534.04 94.6L533.36 96.65L531.99 98.02L530.62 98.7L528.58 98.7L527.21 98.02L525.84 96.65M538.14 93.24L546.33 93.24L546.33 91.87L545.65 90.5L544.97 89.82L543.6 89.14L541.55 89.14L540.19 89.82L538.82 91.19L538.14 93.24L538.14 94.6L538.82 96.65L540.19 98.02L541.55 98.7L543.6 98.7L544.97 98.02L546.33 96.65M558.63 84.36L558.63 98.7M558.63 91.19L557.26 89.82L555.89 89.14L553.85 89.14L552.48 89.82L551.11 91.19L550.43 93.24L550.43 94.6L551.11 96.65L552.48 98.02L553.85 98.7L555.89 98.7L557.26 98.02L558.63 96.65" stroke="#0f0" stroke-width="2.35" fill="none" stroke-linecap="round" stroke-linejoin="round"/><path d="M135.23 384.16L138.64 398.5M142.06 384.16L138.64 398.5M142.06 384.16L145.47 398.5M148.89 384.16L145.47 398.5M152.3 393.04L160.5 393.04L160.5 391.67L159.82 390.3L159.13 389.62L157.77 388.94L155.72 388.94L154.35 389.62L152.99 390.99L152.3 393.04L152.3 394.4L152.99 396.45L154.35 397.82L155.72 398.5L157.77 398.5L159.13 397.82L160.5 396.45M172.79 388.94L172.79 398.5M172.79 390.99L171.43 389.62L170.06 388.94L168.01 388.94L166.65 389.62L165.28 390.99L164.6 393.04L164.6 394.4L165.28 396.45L166.65 397.82L168.01 398.5L170.06 398.5L171.43 397.82L172.79 396.45M178.26 384.16L178.26 398.5M185.09 388.94L178.26 395.77M180.99 393.04L185.77 398.5M204.21 384.16L198.75 398.5M204.21 384.16L209.68 398.5M200.8 393.72L207.63 393.72M222.65 387.57L221.97 386.21L220.6 384.84L219.24 384.16L216.51 384.16L215.14 384.84L213.77 386.21L213.09 387.57L212.41 389.62L212.41 393.04L213.09 395.08L213.77 396.45L215.14 397.82L216.51 398.5L219.24 398.5L220.6 397.82L221.97 396.45L222.65 395.08L222.65 393.04M219.24 393.04L222.65 393.04M227.43 384.16L227.43 398.5M227.43 384.16L237 398.5M237 384.16L237 398.5M249.29 390.99L248.61 389.62L246.56 388.94L244.51 388.94L242.46 389.62L241.78 390.99L242.46 392.35L243.83 393.04L247.24 393.72L248.61 394.4L249.29 395.77L249.29 396.45L248.61 397.82L246.56 398.5L244.51 398.5L242.46 397.82L241.78 396.45M255.44 397.82L254.75 398.5L254.07 397.82L254.75 397.13L255.44 397.82L255.44 399.18L254.75 400.55L254.07 401.23M271.83 384.16L271.83 398.5M271.83 384.16L276.61 384.16L278.66 384.84L280.02 386.21L280.71 387.57L281.39 389.62L281.39 393.04L280.71 395.08L280.02 396.45L278.66 397.82L276.61 398.5L271.83 398.5M285.49 384.16L286.17 384.84L286.86 384.16L286.17 383.47L285.49 384.16M286.17 388.94L286.17 398.5M298.47 390.99L297.78 389.62L295.73 388.94L293.69 388.94L291.64 389.62L290.95 390.99L291.64 392.35L293 393.04L296.42 393.72L297.78 394.4L298.47 395.77L298.47 396.45L297.78 397.82L295.73 398.5L293.69 398.5L291.64 397.82L290.95 396.45M303.25 384.16L303.25 398.5M310.08 388.94L303.25 395.77M305.98 393.04L310.76 398.5M321.69 390.99L321 389.62L318.96 388.94L316.91 388.94L314.86 389.62L314.18 390.99L314.86 392.35L316.22 393.04L319.64 393.72L321 394.4L321.69 395.77L321.69 396.45L321 397.82L318.96 398.5L316.91 398.5L314.86 397.82L314.18 396.45" stroke="#00f" stroke-width="2.35" fill="none" stroke-linecap="round" stroke-linejoin="round"/></svg></body></html>
